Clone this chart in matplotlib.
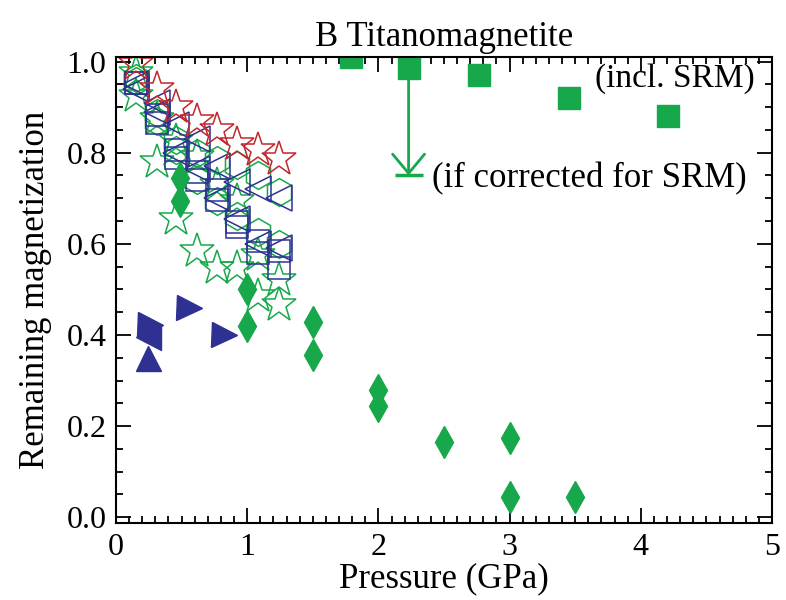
"""B Titanomagnetite: remaining magnetization vs pressure."""
import matplotlib
matplotlib.use('Agg')
import matplotlib.pyplot as plt
from matplotlib.ticker import MultipleLocator

RED = '#C1272D'
GREEN = '#17A84B'
BLUE = '#2E3192'

# pressure steps of the low-pressure runs (GPa)
p_steps = [0.15, 0.31, 0.46, 0.62, 0.77, 0.92, 1.08, 1.24]

red_stars = [0.995, 0.94, 0.90, 0.87, 0.85, 0.82, 0.805, 0.787]
green_stars_hi = [0.975, 0.875, 0.825, 0.79, 0.73, 0.695, 0.575, 0.52]
green_stars_lo = [0.925, 0.78, 0.655, 0.585, 0.546, 0.546, 0.485, 0.465]
green_hex_hi = [0.963, 0.888, 0.827, 0.80, 0.783, 0.772, 0.75, 0.713]
green_hex_lo = [0.958, 0.87, 0.805, 0.74, 0.695, 0.662, 0.625, 0.60]
blue_sq_hi = [0.954, 0.882, 0.805, 0.757, 0.719, 0.647, 0.607, 0.585]
blue_sq_lo = [0.954, 0.866, 0.789, 0.74, 0.697, 0.638, 0.58, 0.546]
blue_tri_hi = [0.95, 0.91, 0.86, 0.83, 0.77, 0.735, 0.72, 0.70]
blue_tri_lo = [0.94, 0.89, 0.80, 0.765, 0.70, 0.655, 0.60, 0.59]

# high-pressure runs
diam_p = [0.49, 0.49, 1.0, 1.0, 1.5, 1.5, 2.0, 2.0, 2.5, 3.0, 3.0, 3.5]
diam_m = [0.745, 0.695, 0.50, 0.42, 0.428, 0.355, 0.28, 0.245, 0.165, 0.175, 0.045, 0.045]

sq_p = [1.79, 2.23, 2.77, 3.45, 4.21]
sq_m = [1.01, 0.985, 0.97, 0.92, 0.88]

tri_right_p = [0.26, 0.56, 0.82]
tri_right_m = [0.423, 0.46, 0.40]
tri_left_p = [0.24]
tri_left_m = [0.395]
tri_up_p = [0.24]
tri_up_m = [0.349]

arrow_p = 2.23
arrow_from, arrow_to = 0.985, 0.75

plt.rcParams['font.family'] = ['Liberation Serif', 'DejaVu Serif']
plt.rcParams['font.size'] = 23

fig = plt.figure(figsize=(7.86, 6.0), dpi=100)
ax = fig.add_axes([0.1476, 0.128, 0.8346, 0.777])

open_kw = dict(linestyle='none', markerfacecolor='none', markeredgewidth=1.1)

ax.plot(p_steps, green_stars_lo, marker='*', ms=26, mec=GREEN, **open_kw)
ax.plot(p_steps, green_stars_hi, marker='*', ms=26, mec=GREEN, **open_kw)
ax.plot(p_steps, green_hex_hi, marker='h', ms=20, mec=GREEN, **open_kw)
ax.plot(p_steps, green_hex_lo, marker='h', ms=20, mec=GREEN, **open_kw)
ax.plot(p_steps, blue_tri_hi, marker='<', ms=19, mec=BLUE, **open_kw)
ax.plot(p_steps, blue_tri_lo, marker='<', ms=19, mec=BLUE, **open_kw)
ax.plot(p_steps, blue_sq_hi, marker='s', ms=16, mec=BLUE, **open_kw)
ax.plot(p_steps, blue_sq_lo, marker='s', ms=16, mec=BLUE, **open_kw)
ax.plot(p_steps, red_stars, marker='*', ms=26, mec=RED, **open_kw)

ax.plot(diam_p, diam_m, linestyle='none', marker='d', ms=16, color=GREEN)
ax.plot(sq_p, sq_m, linestyle='none', marker='s', ms=16, color=GREEN)
ax.plot(tri_right_p, tri_right_m, linestyle='none', marker='>', ms=18, color=BLUE)
ax.plot(tri_left_p, tri_left_m, linestyle='none', marker='<', ms=18, color=BLUE)
ax.plot(tri_up_p, tri_up_m, linestyle='none', marker='^', ms=18, color=BLUE)

ax.annotate('', xy=(arrow_p, arrow_to), xytext=(arrow_p, arrow_from),
            arrowprops=dict(arrowstyle='->,head_length=0.6,head_width=0.5',
                            color=GREEN, lw=2, shrinkA=0, shrinkB=0))
ax.plot([arrow_p], [arrow_to], marker='_', ms=20, mew=2.5, color=GREEN)

ax.text(4.87, 0.963, '(incl. SRM)', ha='right', va='center', fontsize=24)
ax.text(2.41, 0.743, '(if corrected for SRM)', ha='left', va='center', fontsize=25)

ax.set_xlim(0, 5)
ax.set_ylim(-0.013, 1.01)
ax.xaxis.set_major_locator(MultipleLocator(1))
ax.xaxis.set_minor_locator(MultipleLocator(0.1))
ax.yaxis.set_major_locator(MultipleLocator(0.2))
ax.yaxis.set_minor_locator(MultipleLocator(0.05))
ax.yaxis.set_major_formatter(plt.FuncFormatter(lambda v, _: f'{v:.1f}'))
ax.tick_params(which='both', direction='in', top=True, right=True, width=1.3)
ax.tick_params(which='major', length=11, pad=7)
ax.tick_params(which='minor', length=5)
for s in ax.spines.values():
    s.set_linewidth(1.5)

ax.set_title('B Titanomagnetite', pad=8, fontsize=25)
ax.set_xlabel('Pressure (GPa)', labelpad=0, fontsize=25)
ax.set_ylabel('Remaining magnetization', labelpad=10, fontsize=25)

fig.savefig('out.png', dpi=100)
